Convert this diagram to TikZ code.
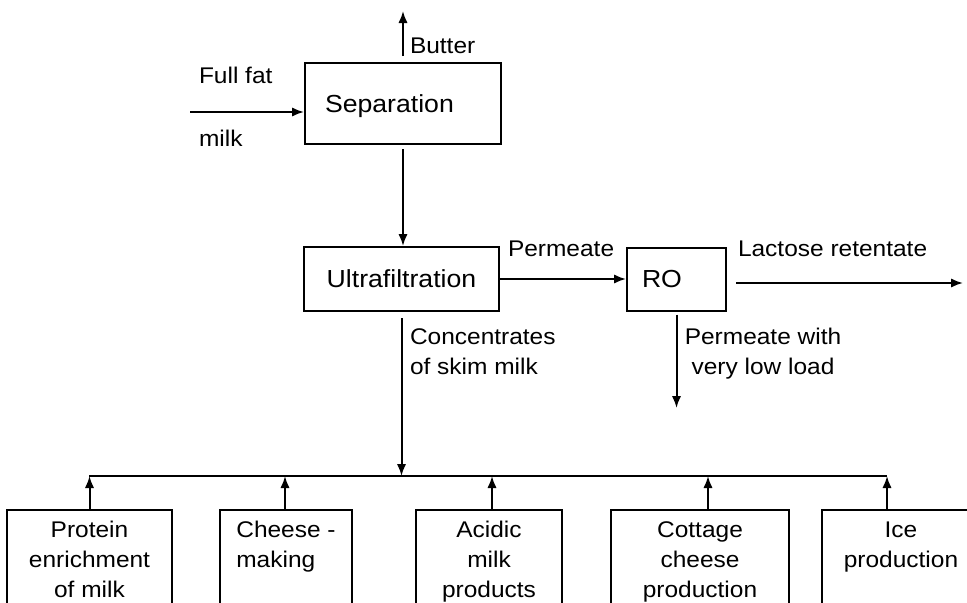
\documentclass[tikz,border=0pt]{standalone}
\usepackage{fontspec}
\setmainfont{Liberation Sans}[FakeStretch=1.08]
\usetikzlibrary{arrows.meta}

\tikzset{every picture/.style={line width=1.5pt}}
\tikzset{
  flow/.style={-{Latex[length=9pt,width=7pt]}},
  procbox/.style={draw, inner ysep=0pt, font=\fontsize{18.5}{22}\selectfont},
  usebox/.style={draw, anchor=north, align=center, inner xsep=0pt, inner ysep=9pt, font=\fontsize{17}{22.5}\selectfont},
  lbl/.style={inner sep=0pt, font=\fontsize{17}{22.5}\selectfont},
}

\begin{document}
\begin{tikzpicture}[x=0.75pt,y=0.75pt,yscale=-1,xscale=1]
\useasboundingbox (0,0) rectangle (967,603);
\clip (0,0) rectangle (967,603);

%Shape: Rectangle
\node[procbox, minimum height=60.75pt, text width=117pt, text depth=0pt, inner xsep=15pt, align=left] (sep) at (403,103.5) {Separation};
%Shape: Rectangle
\node[procbox, minimum width=146.25pt, minimum height=48pt] (ultra) at (401.5,279) {Ultrafiltration};
%Shape: Rectangle
\node[procbox, minimum height=47.25pt, text width=51.75pt, inner xsep=11.25pt, align=left] (ro) at (676.5,279) {RO};

%Shape: Rectangle
\node[usebox, minimum width=123.75pt] (protein) at (89.5,508.5) {Protein\\enrichment\\of milk};
%Shape: Rectangle
\node[usebox, minimum width=99pt, align=left] (cheese) at (286,508.5) {Cheese -\\making\\~};
%Shape: Rectangle
\node[usebox, minimum width=109.5pt] (acidic) at (489,508.5) {Acidic\\milk\\products};
%Shape: Rectangle
\node[usebox, minimum width=133.5pt] (cottage) at (700,508.5) {Cottage\\cheese\\production};
%Shape: Rectangle
\node[usebox, minimum width=118.5pt] (ice) at (901,508.5) {Ice\\production\\~};

%free ends
\coordinate (butterend) at (403,11);
\coordinate (milkin) at (190,112);
\coordinate (lactoseend) at (963,283);
\coordinate (lowloadend) at (676.5,408);
\coordinate (busl) at (89,476);
\coordinate (busr) at (887,476);

%Straight Lines
\draw[flow, shorten <=4.5pt] (sep) -- (butterend);
%Straight Lines
\draw[flow] (milkin) -- (milkin -| sep.west);
%Straight Lines
\draw[flow, shorten <=3pt] (sep.south) -- (sep.south |- ultra.north);
%Straight Lines
\draw[flow] (ultra) -- (ro);
%Straight Lines
\draw[flow, shorten <=6.75pt] (ro.east |- lactoseend) -- (lactoseend);
%Straight Lines
\draw[flow, shorten <=2.25pt] (ro) -- (lowloadend);
%Straight Lines
\draw[flow, shorten <=4.5pt] (ultra.south) -- (ultra.south |- busl);
%Straight Lines
\draw (busl) -- (busr);
\foreach \n/\dx in {protein/0,cheese/-0.75,acidic/2.25,cottage/6,ice/-10.5}
  \draw[flow] ([xshift=\dx pt]\n.north) -- ([xshift=\dx pt]\n.north |- busl);

% Text Node
\node[lbl, anchor=base west] (butterlbl) at (409,53) {Butter};
% Text Node
\node[lbl, anchor=base west] (fullfat) at (198,83) {Full fat};
% Text Node
\node[lbl, anchor=base west] (milk) at (198,146) {milk};
% Text Node
\node[lbl, anchor=base west] (permeate) at (507,256) {Permeate};
% Text Node
\node[lbl, anchor=base west] (lactose) at (737,256) {Lactose retentate};
% Text Node
\node[lbl, anchor=north west, align=left] (conc) at (409,328) {Concentrates\\of skim milk};
% Text Node
\node[lbl, anchor=north, align=center] (lowload) at (763,327) {Permeate with\\very low load};

\end{tikzpicture}
\end{document}
